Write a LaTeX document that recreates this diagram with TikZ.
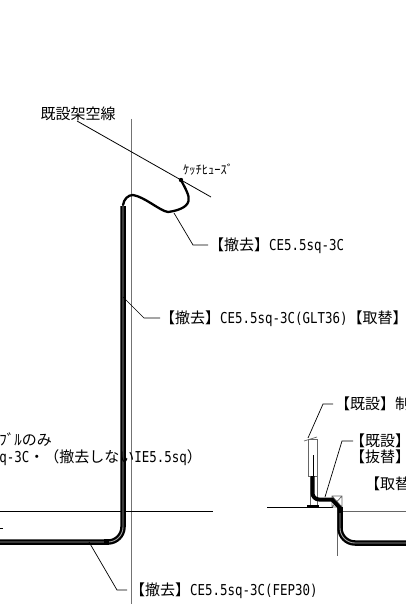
\documentclass[tikz,border=0pt]{standalone}
\usepackage{fontspec}
\newfontfamily\jpf{Noto Sans CJK JP}
\newfontfamily\latf[FakeStretch=0.83]{DejaVu Sans Mono}
\newcommand{\jt}[1]{{\jpf #1}}
\newcommand{\lt}[1]{{\latf #1}}
\tikzset{
 lab/.style={inner sep=0pt,anchor=west,font=\fontsize{15}{15}\selectfont,text height=11pt,text depth=2pt},
 leader/.style={draw=black,line width=0.7pt},
 pole/.style={draw=black!55,line width=1pt},
 ground/.style={draw=black,line width=0.8pt},
 conduit/.style={draw=black,line width=5.5pt},
 core/.style={draw=black!35,line width=0.9pt},
 wire/.style={draw=black,line width=2.3pt,line cap=round},
 fine/.style={draw=black!60,line width=0.7pt}
}
\begin{document}
\begin{tikzpicture}[x=1pt,y=-1pt]
\useasboundingbox (0,0) rectangle (406,604);
\clip (0,0) rectangle (406,604);
\fill[white] (0,0) rectangle (406,604);
% pole + ground
\coordinate (poleT) at (131,119); \coordinate (poleB) at (131,604);
\draw[pole] (poleT) -- (poleB);
\coordinate (gL) at (0,511); \coordinate (gR) at (213,511);
\draw[ground] (gL) -- (gR);
\coordinate (tickA) at (0,528); \coordinate (tickB) at (3,528);
\draw[ground] (tickA) -- (tickB);
% overhead line
\node[lab,anchor=center] (aerial) at (78,115.5) {\jt{既設架空線}};
\coordinate (lineE) at (211,197);
\draw[draw=black,line width=0.8pt] (77,121) -- (lineE);
% fuse label
\node[lab,anchor=west,font=\fontsize{12.5}{12.5}\selectfont] (fuse) at (183,170) {\jt{ｹｯﾁﾋｭｰｽﾞ}};
\fill (181,180) circle (2.2pt);
% cable
\draw[wire] (181,180) .. controls (185,188) and (190,196) .. (188.5,201) .. controls (187,208) and (176,211) .. (168,212) .. controls (160,211) and (145,197) .. (133,195) .. controls (128,195) and (124,199) .. (123,205);
% conduit main
\draw[conduit] (123,206) -- (123,527) arc[start angle=0,end angle=90,radius=15] -- (0,542);
\draw[core] (123,206) -- (123,527) arc[start angle=0,end angle=90,radius=15] -- (0,542);
\fill (104,539) rectangle (109,545);
% leaders and labels
\node[lab] (l1) at (209,245.5) {\jt{【撤去】}\lt{CE5.5sq-3C}};
\coordinate (l1a) at (174,213); \coordinate (l1b) at (193,245); \coordinate (l1c) at (208,245);
\draw[leader] (l1a) -- (l1b) -- (l1c);
\node[lab] (l2) at (160,318.5) {\jt{【撤去】}\lt{CE5.5sq-3C(GLT36)}\jt{【取替】}};
\coordinate (l2a) at (123,297); \coordinate (l2b) at (144,318); \coordinate (l2c) at (160,318);
\draw[leader] (l2a) -- (l2b) -- (l2c);
\node[lab] (l3) at (130,590.5) {\jt{【撤去】}\lt{CE5.5sq-3C(FEP30)}};
\coordinate (l3a) at (89,542); \coordinate (l3b) at (117,590); \coordinate (l3c) at (127,590);
\draw[leader] (l3a) -- (l3b) -- (l3c);
% left text
\node[lab,anchor=east] (t1) at (52,440.5) {\jt{ﾌﾞﾙのみ}};
\node[lab,anchor=east] (t2) at (202,457.5) {\lt{q-3C}\jt{・（撤去しない}\lt{IE5.5sq}\jt{）}};
% right device
\node[lab] (r1) at (335,404.5) {\jt{【既設】制}};
\coordinate (r1a) at (308,438); \coordinate (r1b) at (323,404); \coordinate (r1c) at (333,404);
\draw[leader] (r1a) -- (r1b) -- (r1c);
\node[lab] (r2) at (350,441.5) {\jt{【既設】}};
\node[lab] (r3) at (350,457.5) {\jt{【抜替】}};
\coordinate (r2a) at (325,497); \coordinate (r2b) at (342,441); \coordinate (r2c) at (353,441);
\draw[leader] (r2a) -- (r2b) -- (r2c);
\node[lab] (r4) at (365,484.5) {\jt{【取替}};
\draw[fine] (308,439) rectangle (317,476);
\draw[fine] (304,441) -- (317,437);
\draw[fine] (310,476) -- (310,505) (317,476) -- (317,505);
\draw[draw=black,line width=1.5pt] (313.5,455) -- (313.5,476);
\draw[ground] (267,507) -- (333,507);
\draw[draw=black,line width=2pt] (307,505.5) -- (319,505.5);
\draw[fine] (340,511) -- (406,511);
\draw[fine] (337,507) -- (337,556);
\draw[fine] (332,496) rectangle (342,507) (332,496) -- (342,507) (342,496) -- (332,507);
\draw[draw=black,line width=4pt] (312.5,476) -- (312.5,493) arc[start angle=180,end angle=90,radius=6.5] -- (332,499.5) -- (340,508);
\draw[conduit] (340,507) -- (340,528) arc[start angle=180,end angle=90,radius=15] -- (406,543);
\draw[core] (340,513) -- (340,528) arc[start angle=180,end angle=90,radius=15] -- (406,543);
\end{tikzpicture}
\end{document}
